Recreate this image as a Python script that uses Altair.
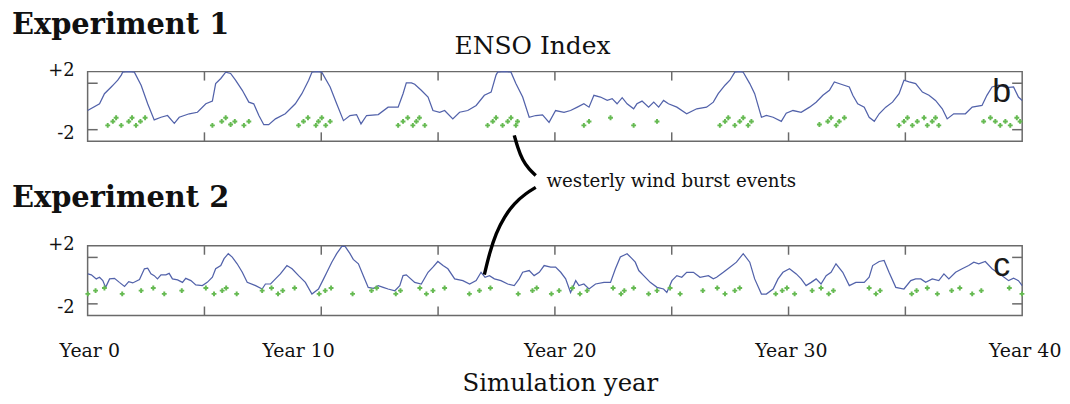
import altair as alt
import pandas as pd

# ---------------- data ----------------
# Experiment 1 ENSO index: (simulation year, index)
exp1_enso = [
    (0.00, -0.35), (0.51, 0.23), (0.72, 1.10), (1.01, 1.68), (1.15, 1.97), (1.29, 2.26),
    (1.44, 2.70), (1.50, 2.95), (1.75, 3.50), (2.00, 2.95), (2.29, 1.83), (2.57, 0.23),
    (2.85, -1.16), (3.14, -0.93), (3.42, -0.78), (3.71, -1.45), (3.92, -0.93), (4.35, -0.63),
    (4.70, -0.50), (5.06, 0.23), (5.34, 0.46), (5.48, 1.97), (5.70, 2.41), (5.91, 2.95),
    (6.12, 2.84), (6.33, 2.26), (6.62, 1.39), (6.90, 0.37), (7.11, 0.23), (7.33, -0.78),
    (7.54, -1.57), (7.75, -1.57), (8.04, -1.07), (8.46, -0.63), (8.89, 0.23), (9.17, 1.10),
    (9.46, 2.26), (9.60, 2.95), (9.80, 3.60), (10.02, 2.95), (10.38, 1.68), (10.66, 0.23),
    (10.95, -1.22), (11.23, -0.78), (11.51, -0.70), (11.70, -1.50), (11.94, -0.78), (12.44, -0.70),
    (12.86, -0.06), (13.29, -0.06), (13.50, 1.10), (13.64, 2.03), (13.86, 2.03), (14.00, 1.91),
    (14.28, 1.39), (14.57, 0.81), (14.78, -0.35), (15.07, -0.50), (15.28, -0.35), (15.63, -1.07),
    (15.92, -0.50), (16.27, -0.35), (16.63, 0.09), (16.98, 0.96), (17.27, 1.24), (17.48, 2.70),
    (17.55, 2.95), (17.85, 3.70), (18.12, 2.95), (18.33, 1.97), (18.62, 0.81), (18.90, -0.93),
    (19.18, -0.78), (19.47, -0.72), (19.75, -1.37), (20.03, -0.35), (20.39, -0.50), (20.67, -0.35),
    (20.96, -0.06), (21.24, 0.23), (21.46, -0.06), (21.67, 0.96), (21.95, 0.81), (22.24, 0.52),
    (22.45, 0.67), (22.66, 0.23), (22.88, 0.76), (23.09, 0.23), (23.37, -0.20), (23.51, 0.23),
    (23.73, 0.46), (24.01, -0.06), (24.23, 0.37), (24.44, -0.06), (24.65, 0.52), (24.86, 0.23),
    (25.22, -0.06), (25.64, -0.63), (26.07, -0.20), (26.49, -0.06), (26.78, 0.37), (26.99, 1.10),
    (27.28, 1.83), (27.49, 2.26), (27.70, 2.95), (27.90, 3.40), (28.06, 2.95), (28.34, 1.97),
    (28.55, 1.10), (28.84, -0.93), (29.05, -0.78), (29.34, -0.93), (29.69, -1.28), (29.90, -0.58),
    (30.19, -0.35), (30.54, -0.50), (30.90, -0.06), (31.18, 0.37), (31.47, 0.96), (31.75, 1.39),
    (31.96, 2.11), (32.25, 1.91), (32.60, 1.68), (32.75, 0.96), (32.96, 0.23), (33.24, -0.06),
    (33.45, -0.93), (33.67, -1.28), (33.88, -0.63), (34.16, -0.06), (34.45, 0.37), (34.73, 1.10),
    (34.94, 2.26), (35.16, 2.11), (35.44, 1.97), (35.73, 1.24), (36.01, 0.96), (36.29, 0.52),
    (36.58, -0.20), (36.79, -1.07), (37.07, -0.63), (37.57, -0.63), (37.86, -0.06), (38.28, 0.09),
    (38.49, 0.96), (38.71, 1.68), (38.99, 1.83), (39.35, 1.63), (39.63, 1.68), (39.84, 0.81),
    (40.00, 0.52),
]

# Experiment 1 westerly wind burst events: (year, plotted level)
exp1_wwb = [
    (0.86, -1.63), (1.08, -1.29), (1.22, -0.97), (1.44, -1.63), (1.76, -1.29), (1.90, -0.97),
    (2.07, -1.63), (2.26, -1.29), (2.46, -0.97),
    (5.34, -1.63), (5.74, -1.29), (5.91, -0.97), (6.12, -1.55), (6.30, -1.29), (6.69, -1.63),
    (6.90, -1.29),
    (9.03, -1.63), (9.24, -1.29), (9.43, -0.97), (9.77, -1.63), (9.88, -1.29), (10.02, -0.97),
    (10.19, -1.63), (10.38, -1.29),
    (13.29, -1.63), (13.50, -1.29), (13.70, -0.97), (13.92, -1.63), (14.07, -1.29), (14.20, -0.97),
    (14.43, -1.63),
    (17.12, -1.63), (17.34, -1.29), (17.48, -0.97), (17.76, -1.63), (17.98, -1.29), (18.12, -0.97),
    (18.33, -1.63), (18.40, -1.29),
    (21.24, -1.63), (21.46, -1.29), (22.38, -0.97), (23.37, -1.63), (24.37, -1.29),
    (27.06, -1.63), (27.28, -1.29), (27.42, -0.97), (27.70, -1.63), (27.91, -1.29), (28.06, -0.97),
    (28.27, -1.63), (28.41, -1.29),
    (31.32, -1.55), (31.68, -1.29), (31.82, -0.97), (32.04, -1.63), (32.17, -1.29), (32.39, -0.97),
    (34.73, -1.63), (34.94, -1.29), (35.09, -0.97), (35.30, -1.63), (35.51, -1.29), (35.80, -0.97),
    (35.94, -1.63), (36.15, -1.29), (36.29, -0.97), (36.43, -1.63),
    (38.35, -1.29), (38.64, -0.97), (38.85, -1.29), (39.06, -1.63), (39.28, -1.29), (39.49, -1.63),
    (39.77, -0.97), (39.91, -1.29),
]

# Experiment 2 ENSO index
exp2_enso = [
    (0.01, 0.58), (0.16, 0.50), (0.37, 0.15), (0.51, 0.29), (0.65, 0.00), (0.77, -0.58),
    (0.94, 0.15), (1.15, 0.20), (1.36, -0.15), (1.58, -0.50), (1.76, -0.09), (1.93, -0.20),
    (2.22, 0.09), (2.43, 1.02), (2.57, 1.07), (2.71, 0.58), (2.85, 0.43), (2.99, 0.15),
    (3.14, 0.50), (3.35, 0.50), (3.49, 0.63), (3.63, 0.15), (3.85, 0.06), (4.06, -0.15),
    (4.20, 0.20), (4.42, 0.00), (4.63, -0.37), (4.91, -0.43), (5.12, -0.15), (5.34, 0.29),
    (5.48, 1.02), (5.70, 1.30), (5.84, 1.89), (6.02, 2.32), (6.19, 2.03), (6.40, 1.45),
    (6.62, 0.72), (6.83, -0.15), (7.19, -0.43), (7.47, -0.72), (7.61, -0.29), (7.83, -0.29),
    (8.04, 0.15), (8.25, 0.58), (8.53, 1.30), (8.75, 1.02), (9.03, 0.43), (9.32, -0.15),
    (9.60, -1.16), (9.88, -0.72), (10.10, 0.15), (10.24, 0.72), (10.45, 1.59), (10.66, 2.32),
    (10.88, 2.95), (11.02, 2.95), (11.23, 2.32), (11.37, 1.83), (11.59, 1.45), (11.80, 0.43),
    (12.01, -0.58), (12.23, -0.67), (12.44, -0.43), (12.65, -0.58), (12.86, -0.72), (13.15, -0.87),
    (13.36, -0.43), (13.50, 0.43), (13.64, 0.50), (14.00, -0.15), (14.28, -0.29), (14.57, 0.72),
    (14.78, 1.16), (14.99, 1.65), (15.21, 1.30), (15.42, 1.02), (15.71, 0.15), (16.06, 0.00),
    (16.35, -0.29), (16.63, 0.00), (16.84, 0.72), (17.01, 0.29), (17.20, 0.43), (17.41, 0.15),
    (17.69, 0.00), (17.98, -0.29), (18.26, -0.43), (18.47, 0.15), (18.62, 0.72), (18.90, 0.87),
    (19.11, 0.43), (19.33, 0.72), (19.54, 1.30), (19.82, 1.16), (20.03, 1.16), (20.25, 0.72),
    (20.46, 0.15), (20.67, -1.02), (20.89, 0.00), (21.03, -0.43), (21.24, -0.29), (21.46, -0.72),
    (21.74, -0.29), (22.10, -0.15), (22.38, -0.15), (22.59, 1.02), (22.80, 2.03), (23.09, 2.32),
    (23.30, 1.89), (23.44, 1.59), (23.59, 0.87), (23.80, 0.43), (24.08, -0.15), (24.37, -0.58),
    (24.65, -0.72), (24.79, -1.02), (25.01, 0.00), (25.22, 0.43), (25.43, 0.29), (25.64, 0.72),
    (25.93, 0.72), (26.21, 0.29), (26.57, 0.43), (26.78, 0.15), (26.92, 0.29), (27.21, 0.72),
    (27.49, 1.16), (27.77, 1.59), (28.06, 2.32), (28.34, 1.59), (28.55, 0.15), (28.84, -1.16),
    (29.05, -1.16), (29.34, -0.72), (29.55, 0.15), (29.76, 0.72), (30.04, 1.02), (30.33, 0.58),
    (30.54, 0.15), (30.75, -0.43), (30.97, -0.15), (31.18, 0.15), (31.39, -0.29), (31.61, 0.43),
    (31.82, 0.72), (32.03, 1.45), (32.32, 0.72), (32.60, -0.43), (32.88, -0.15), (33.24, -0.15),
    (33.45, 0.29), (33.60, 1.30), (33.88, 1.65), (34.09, 1.74), (34.30, 0.72), (34.59, -0.58),
    (34.94, -0.72), (35.23, 0.00), (35.44, 0.15), (35.66, 0.15), (35.87, -0.15), (36.15, 0.15),
    (36.43, 0.00), (36.65, 0.58), (36.86, 0.15), (37.15, 0.72), (37.43, 1.02), (37.71, 1.30),
    (37.93, 1.59), (38.14, 1.45), (38.42, 1.65), (38.71, 1.02), (39.14, 0.43), (39.42, 0.00),
    (39.63, 0.20), (39.84, 0.00), (40.00, -0.43),
]

# Experiment 2 westerly wind burst events
exp2_wwb = [
    (0.01, -1.14), (0.34, -0.86), (0.72, -0.63), (1.48, -1.14), (2.29, -0.86), (2.81, -0.63),
    (3.28, -1.14), (4.03, -0.86), (5.06, -0.63), (5.41, -1.14), (5.76, -0.86), (5.93, -0.63),
    (6.38, -1.14), (7.47, -0.86), (7.87, -0.63), (8.15, -1.14), (8.35, -0.86), (8.86, -0.63),
    (9.91, -1.14), (10.17, -0.86), (10.42, -0.63), (11.34, -1.14), (12.15, -0.86), (12.37, -0.63),
    (13.19, -1.14), (13.39, -0.86), (14.22, -0.63), (14.50, -1.14), (14.78, -0.86), (15.28, -0.63),
    (16.34, -1.14), (16.77, -0.86), (17.24, -0.63), (18.43, -1.14), (19.04, -0.86), (19.22, -0.63),
    (19.85, -1.14), (20.18, -0.86), (20.75, -0.63), (21.07, -1.14), (21.38, -0.86), (22.49, -0.63),
    (22.83, -1.14), (22.97, -0.86), (23.37, -0.63), (24.01, -1.14), (24.37, -0.86), (24.93, -0.63),
    (25.36, -1.14), (26.33, -0.86), (26.95, -0.63), (27.28, -1.14), (27.70, -0.86), (27.91, -0.63),
    (29.45, -1.14), (29.73, -0.86), (29.93, -0.63), (30.26, -1.14), (31.01, -0.86), (31.39, -0.63),
    (31.72, -1.14), (31.92, -0.86), (33.45, -0.63), (33.74, -1.14), (33.92, -0.86), (35.27, -1.14),
    (35.48, -0.86), (35.94, -0.63), (36.37, -1.14), (36.98, -0.86), (37.33, -0.63), (37.86, -1.14),
    (38.25, -0.86), (39.45, -0.63), (39.99, -1.14),
]

# annotation bracket (upper piece in Experiment 1 units, lower piece in Experiment 2 units)
ann_upper = [(18.26, -2.49), (18.40, -3.49), (18.61, -4.63), (18.90, -5.43), (19.18, -5.94)]
ann_lower = [(19.18, 8.03), (18.76, 7.52), (18.26, 6.66), (17.84, 5.51), (17.48, 4.09),
             (17.20, 2.37), (16.98, 0.51)]
ann_text = "westerly wind burst events"

tick_years = [5, 10, 15, 20, 25, 30, 35]
y_tick_vals = [2, -2]
y_tick_text = ["+2", "-2"]
year_label_pos = [0.09, 9.03, 20.23, 30.12, 40.13]
year_label_text = ["Year 0", "Year 10", "Year 20", "Year 30", "Year 40"]
panel_letters = ["b", "c"]
titles = ["Experiment 1", "Experiment 2"]

# ---------------- styling / layout ----------------
W, H = 939, 245
P1 = [70, 0]        # pixel range of panel 1 inside the view
P2 = [245, 175]     # pixel range of panel 2 inside the view
SERIF = "DejaVu Serif"
LINE_C = "#5262AA"
DOT_C = "#66BA52"
BOX_C = "#6A6A6A"
TY, TX = 0.77, 0.43   # inner tick lengths in data units

xs = alt.Scale(domain=[0, 40], nice=False)


def ysc(rng, clamp=False):
    if clamp:
        return alt.Scale(domain=[-3, 3], range=rng, nice=False, clamp=True)
    return alt.Scale(domain=[-3, 3], range=rng, nice=False)


def panel_layers(enso, wwb, rng, letter):
    layers = []
    box = pd.DataFrame({"x": [0], "x2": [40], "y": [-3], "y2": [3]})
    layers.append(alt.Chart(box).mark_rect(fillOpacity=0, stroke=BOX_C, strokeWidth=1.5).encode(
        x=alt.X("x:Q", scale=xs, axis=None), x2="x2:Q",
        y=alt.Y("y:Q", scale=ysc(rng), axis=None), y2="y2:Q"))
    rows = []
    for t in tick_years:
        rows.append({"x": t, "x2": t, "y": 3, "y2": 3 - TY})
        rows.append({"x": t, "x2": t, "y": -3, "y2": -3 + TY})
    for v in y_tick_vals:
        rows.append({"x": 0, "x2": TX, "y": v, "y2": v})
        rows.append({"x": 40 - TX, "x2": 40, "y": v, "y2": v})
    layers.append(alt.Chart(pd.DataFrame(rows)).mark_rule(color=BOX_C, strokeWidth=1.5).encode(
        x=alt.X("x:Q", scale=xs, axis=None), x2="x2:Q",
        y=alt.Y("y:Q", scale=ysc(rng), axis=None), y2="y2:Q"))
    ldf = pd.DataFrame(enso, columns=["year", "enso"])
    layers.append(alt.Chart(ldf).mark_line(color=LINE_C, strokeWidth=1.25).encode(
        x=alt.X("year:Q", scale=xs, axis=None),
        y=alt.Y("enso:Q", scale=ysc(rng, clamp=True), axis=None)))
    ddf = pd.DataFrame(wwb, columns=["year", "level"])
    layers.append(alt.Chart(ddf).mark_point(shape="cross", filled=True, size=24, color=DOT_C,
                                            opacity=1).encode(
        x=alt.X("year:Q", scale=xs, axis=None),
        y=alt.Y("level:Q", scale=ysc(rng), axis=None)))
    for v, t, dy in zip(y_tick_vals, y_tick_text, [-12, 4]):
        tdf = pd.DataFrame({"v": [v], "t": [t]})
        layers.append(alt.Chart(tdf).mark_text(font=SERIF, fontSize=18, align="right",
                                               baseline="middle", dy=dy, color="#111").encode(
            x=alt.value(-13), y=alt.Y("v:Q", scale=ysc(rng), axis=None), text="t:N"))
    bdf = pd.DataFrame({"x": [39.12], "y": [0.4], "t": [letter]})
    layers.append(alt.Chart(bdf).mark_text(font="Liberation Sans", fontSize=34, align="center",
                                           baseline="alphabetic", color="#1a1a1a").encode(
        x=alt.X("x:Q", scale=xs, axis=None), y=alt.Y("y:Q", scale=ysc(rng), axis=None),
        text="t:N"))
    return layers


layers = []
layers += panel_layers(exp1_enso, exp1_wwb, P1, panel_letters[0])
layers += panel_layers(exp2_enso, exp2_wwb, P2, panel_letters[1])

# annotation bracket
up = pd.DataFrame(ann_upper, columns=["year", "v"]).reset_index()
lo = pd.DataFrame(ann_lower, columns=["year", "v"]).reset_index()
layers.append(alt.Chart(up).mark_line(color="black", strokeWidth=3.4, interpolate="basis").encode(
    x=alt.X("year:Q", scale=xs, axis=None), y=alt.Y("v:Q", scale=ysc(P1), axis=None),
    order="index:Q"))
layers.append(alt.Chart(lo).mark_line(color="black", strokeWidth=3.4, interpolate="basis").encode(
    x=alt.X("year:Q", scale=xs, axis=None), y=alt.Y("v:Q", scale=ysc(P2), axis=None),
    order="index:Q"))
layers.append(alt.Chart(pd.DataFrame({"t": [ann_text]})).mark_text(
    font=SERIF, fontSize=18.3, align="left", baseline="alphabetic", color="#111").encode(
    x=alt.value(461), y=alt.value(116), text="t:N"))

# titles
tdf = pd.DataFrame({"t": titles, "yy": [-38, 136]})
layers.append(alt.Chart(tdf).mark_text(font=SERIF, fontSize=29, fontWeight="bold", align="left",
                                       baseline="alphabetic", color="#111").encode(
    x=alt.value(-76), y=alt.Y("yy:Q", scale=alt.Scale(domain=[0, H], range=[0, H]), axis=None),
    text="t:N"))
layers.append(alt.Chart(pd.DataFrame({"t": ["ENSO Index"]})).mark_text(
    font=SERIF, fontSize=25, align="center", baseline="alphabetic", color="#111").encode(
    x=alt.value(447), y=alt.value(-18), text="t:N"))

# year labels and axis title
ydf = pd.DataFrame({"pos": year_label_pos, "t": year_label_text})
layers.append(alt.Chart(ydf).mark_text(font=SERIF, fontSize=19, align="center",
                                       baseline="alphabetic", color="#111").encode(
    x=alt.X("pos:Q", scale=xs, axis=None), y=alt.value(287), text="t:N"))
layers.append(alt.Chart(pd.DataFrame({"t": ["Simulation year"]})).mark_text(
    font=SERIF, fontSize=24.5, align="center", baseline="alphabetic", color="#111").encode(
    x=alt.value(475), y=alt.value(321), text="t:N"))

chart = alt.layer(*layers).resolve_scale(y="independent").properties(
    width=W, height=H,
    autosize=alt.AutoSizeParams(type="none"),
    padding={"left": 80, "top": 63, "right": 40, "bottom": 82},
    background="white",
).configure_view(stroke=None)

chart.save("out.html", embed_options={"renderer": "svg", "actions": False})
